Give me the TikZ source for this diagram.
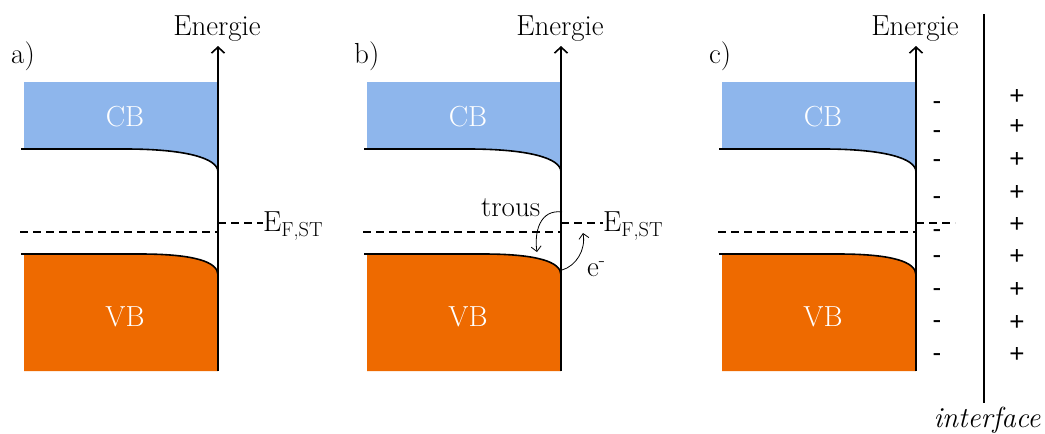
\documentclass[tikz,border=0pt]{standalone}
\usepackage{fontspec}
\setmainfont{Latin Modern Roman}
\setsansfont{Liberation Sans}
\usetikzlibrary{arrows.meta}
\definecolor{cbblue}{RGB}{142,182,236}
\definecolor{vborange}{RGB}{238,106,0}
\begin{document}
\begin{tikzpicture}[x=1pt,y=-1pt,
  band/.style={line width=1.6pt},
  axisline/.style={line width=1.6pt,-{Straight Barb[length=6pt,width=13pt,line width=1.6pt]}},
  fermi/.style={line width=1.4pt, dash pattern=on 8pt off 5pt},
  lbl/.style={font=\fontsize{29}{34}\selectfont, inner sep=0pt},
  bandlbl/.style={lbl,text=white},
  flow/.style={line width=0.8pt,-{Straight Barb[length=5pt,width=10pt,line width=0.8pt]}},
  charge/.style={font=\sffamily\fontsize{26}{30}\selectfont, inner sep=0pt}]
\useasboundingbox (0,0) rectangle (1045,434);
\foreach \p/\dx in {a/0,b/343,c/698}{
 \begin{scope}[xshift=\dx pt]
  \fill[cbblue] (24,82) -- (218,82) -- (218,172) .. controls (218,158) and (185,149) .. (125,149) -- (24,149) -- cycle;
  \draw[band] (21,149) -- (125,149) .. controls (185,149) and (218,158) .. (218,172);
  \fill[vborange] (24,371) -- (24,254) -- (140,254) .. controls (195,254) and (218,262) .. (218,275) -- (218,371) -- cycle;
  \draw[band] (21,254) -- (140,254) .. controls (195,254) and (218,262) .. (218,275);
  \coordinate (\p-bot) at (218,371);
  \coordinate (\p-top) at (218,46);
  \draw[axisline] (\p-bot) -- (\p-top);
  \node[lbl, anchor=base] (\p-en) at (217,35) {Energie};
  \coordinate (\p-fl) at (20,232);
  \coordinate (\p-fr) at (218,232);
  \draw[fermi] (\p-fl) -- (\p-fr);
  \node[bandlbl] (\p-cb) at (125,117) {CB};
  \node[bandlbl] (\p-vb) at (125,317) {VB};
  \node[lbl, anchor=base west] (\p-let) at (11,63) {\p)};
 \end{scope}
}
% Fermi level of the surface states
\coordinate (a-s1) at (218,223);
\node[lbl, anchor=base west] (a-ef) at (263,231) {E\textsubscript{F,ST}};
\draw[fermi] (a-s1) -- (a-ef.west |- a-s1);
\coordinate (b-s1) at (561,223);
\node[lbl, anchor=base west] (b-ef) at (603,231) {E\textsubscript{F,ST}};
\draw[fermi] (b-s1) -- (b-ef.west |- b-s1);
\coordinate (c-s1) at (916,223);
\coordinate (c-s2) at (955,223);
\draw[fermi] (c-s1) -- (c-s2);
% charge transfer in b
\node[lbl, anchor=base west] (trous) at (481,216) {trous};
\node[lbl, anchor=base west] (elec) at (587,276) {e\textsuperscript{-}};
\coordinate (h1) at (562,212);
\coordinate (h2) at (537,252);
\draw[flow] (h1) .. controls (540,209) and (534,232) .. (h2);
\coordinate (e1) at (562,270);
\coordinate (e2) at (583,233);
\draw[flow] (e1) .. controls (576,266) and (586,250) .. (e2);
% interface in c
\coordinate (if-top) at (984,14);
\coordinate (if-bot) at (984,403);
\draw[line width=1.6pt] (if-top) -- (if-bot);
\node[lbl, font=\itshape\fontsize{29}{34}\selectfont, anchor=base] (iflbl) at (987,427) {interface};
\foreach \y [count=\i] in {106,135,164,201,234,260,293,325,358}
  \node[charge] (m\i) at (937,\y) {-};
\foreach \y [count=\i] in {97,127,160,193,225,257,290,323,355}
  \node[charge] (pl\i) at (1017,\y) {+};
\end{tikzpicture}
\end{document}
